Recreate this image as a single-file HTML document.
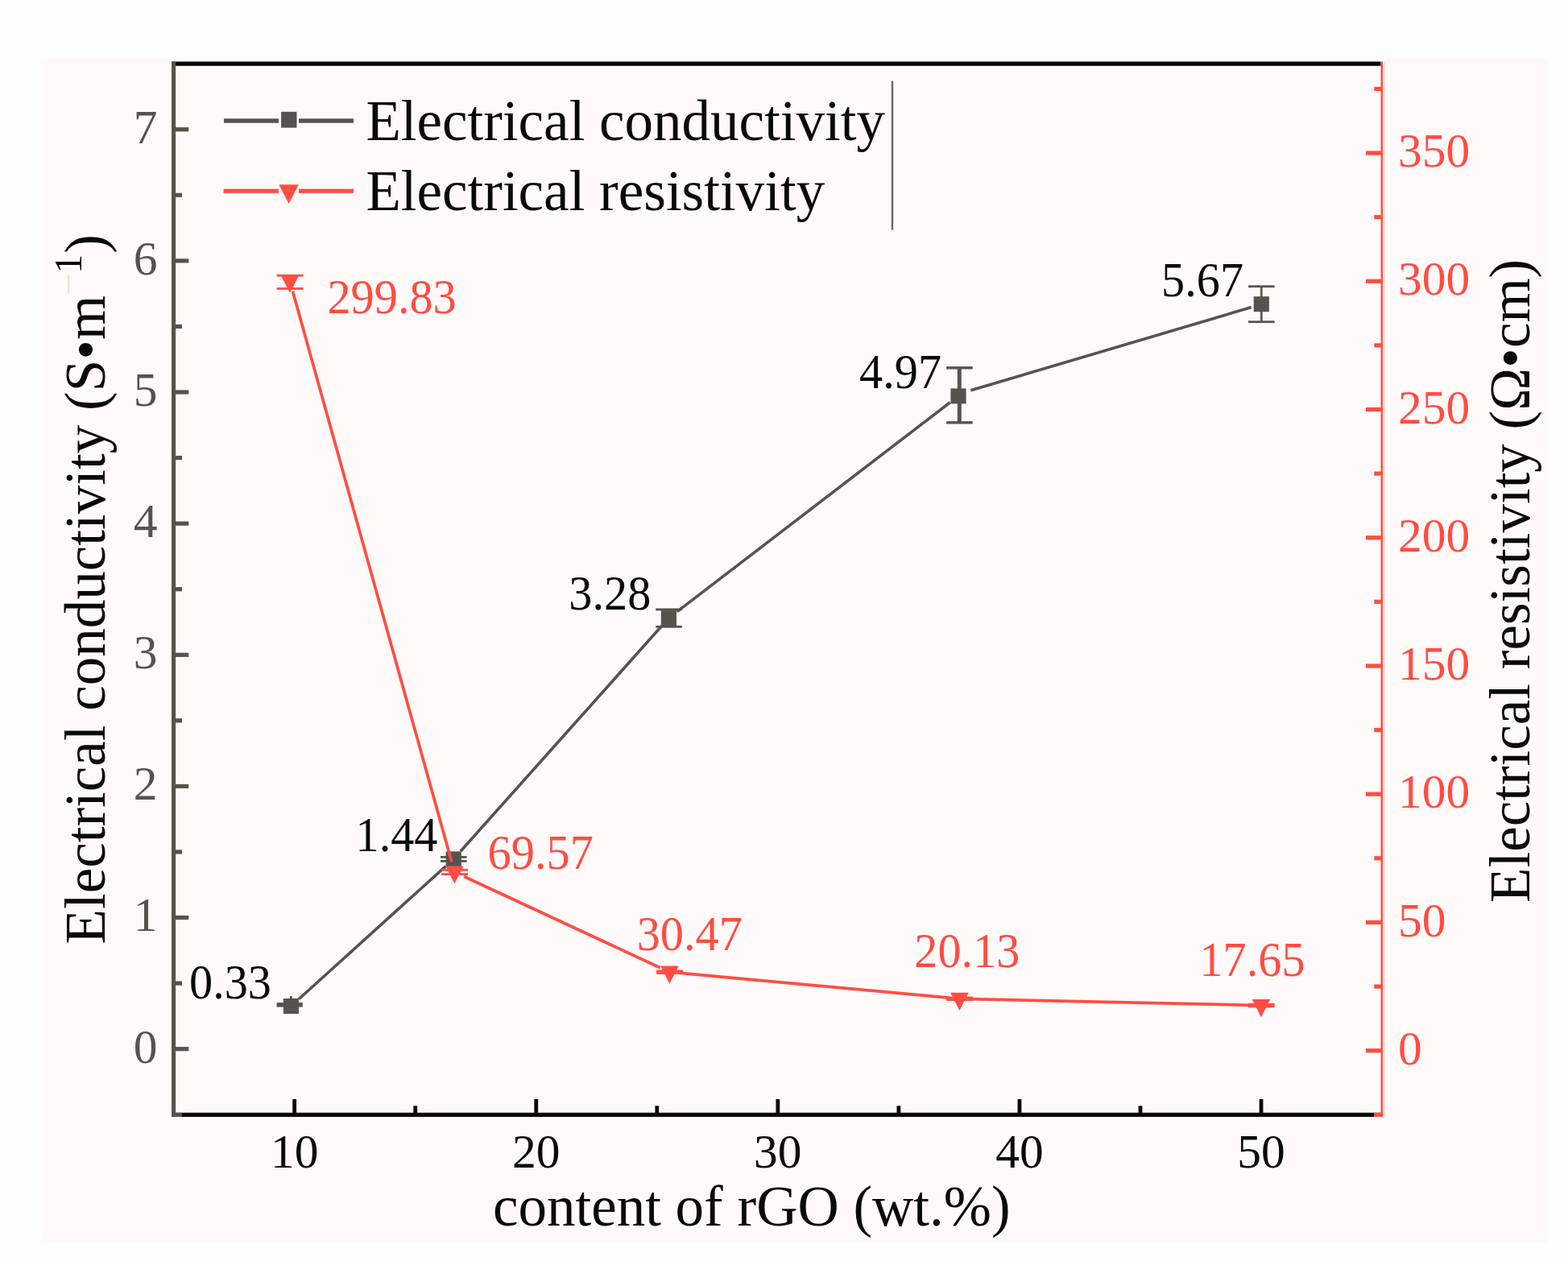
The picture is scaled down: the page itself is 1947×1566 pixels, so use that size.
<!DOCTYPE html>
<html><head><meta charset="utf-8"><title>Electrical conductivity and resistivity vs rGO content</title>
<style>html,body{margin:0;padding:0;background:#fefefe;} svg{display:block;}</style></head>
<body>
<svg width="1947" height="1566" viewBox="0 0 1947 1566">
<rect x="0" y="0" width="1947" height="1566" fill="#fefefe"/>
<rect x="51" y="73" width="1871" height="1470.2" fill="#fefaf9"/>
<rect x="213" y="76.5" width="1501.6" height="5.3" fill="#080a06"/>
<rect x="213" y="1381.8" width="1504" height="5.2" fill="#080a06"/>
<rect x="213" y="76.5" width="5.1" height="1310.5" fill="#57524d"/>
<rect x="213" y="1381.8" width="13" height="5.2" fill="#57524d"/>
<rect x="1714.6" y="76.5" width="2.6" height="1310.5" fill="#ff4d43"/>
<rect x="1717.2" y="76.5" width="2.6" height="1310.5" fill="#fde0dd"/>
<rect x="1706" y="1381.8" width="11.2" height="5.2" fill="#ff4d43"/>
<rect x="218" y="1300.10" width="16.3" height="5.2" fill="#57524d"/>
<rect x="218" y="1136.96" width="16.3" height="5.2" fill="#57524d"/>
<rect x="218" y="973.82" width="16.3" height="5.2" fill="#57524d"/>
<rect x="218" y="810.68" width="16.3" height="5.2" fill="#57524d"/>
<rect x="218" y="647.54" width="16.3" height="5.2" fill="#57524d"/>
<rect x="218" y="484.40" width="16.3" height="5.2" fill="#57524d"/>
<rect x="218" y="321.26" width="16.3" height="5.2" fill="#57524d"/>
<rect x="218" y="158.12" width="16.3" height="5.2" fill="#57524d"/>
<rect x="218" y="1218.53" width="8" height="5.2" fill="#57524d"/>
<rect x="218" y="1055.39" width="8" height="5.2" fill="#57524d"/>
<rect x="218" y="892.25" width="8" height="5.2" fill="#57524d"/>
<rect x="218" y="729.11" width="8" height="5.2" fill="#57524d"/>
<rect x="218" y="565.97" width="8" height="5.2" fill="#57524d"/>
<rect x="218" y="402.83" width="8" height="5.2" fill="#57524d"/>
<rect x="218" y="239.69" width="8" height="5.2" fill="#57524d"/>
<rect x="1696" y="1302.10" width="19" height="5.2" fill="#ff4d43"/>
<rect x="1696" y="1142.86" width="19" height="5.2" fill="#ff4d43"/>
<rect x="1696" y="983.61" width="19" height="5.2" fill="#ff4d43"/>
<rect x="1696" y="824.37" width="19" height="5.2" fill="#ff4d43"/>
<rect x="1696" y="665.12" width="19" height="5.2" fill="#ff4d43"/>
<rect x="1696" y="505.88" width="19" height="5.2" fill="#ff4d43"/>
<rect x="1696" y="346.63" width="19" height="5.2" fill="#ff4d43"/>
<rect x="1696" y="187.39" width="19" height="5.2" fill="#ff4d43"/>
<rect x="1706.3" y="1222.48" width="9" height="5.2" fill="#ff4d43"/>
<rect x="1706.3" y="1063.23" width="9" height="5.2" fill="#ff4d43"/>
<rect x="1706.3" y="903.99" width="9" height="5.2" fill="#ff4d43"/>
<rect x="1706.3" y="744.74" width="9" height="5.2" fill="#ff4d43"/>
<rect x="1706.3" y="585.50" width="9" height="5.2" fill="#ff4d43"/>
<rect x="1706.3" y="426.25" width="9" height="5.2" fill="#ff4d43"/>
<rect x="1706.3" y="267.01" width="9" height="5.2" fill="#ff4d43"/>
<rect x="1706.3" y="107.76" width="9" height="5.2" fill="#ff4d43"/>
<rect x="363.25" y="1365" width="4.8" height="17" fill="#080a06"/>
<rect x="663.35" y="1365" width="4.8" height="17" fill="#080a06"/>
<rect x="963.45" y="1365" width="4.8" height="17" fill="#080a06"/>
<rect x="1263.55" y="1365" width="4.8" height="17" fill="#080a06"/>
<rect x="1563.65" y="1365" width="4.8" height="17" fill="#080a06"/>
<rect x="513.30" y="1373.3" width="4.8" height="9" fill="#080a06"/>
<rect x="813.40" y="1373.3" width="4.8" height="9" fill="#080a06"/>
<rect x="1113.50" y="1373.3" width="4.8" height="9" fill="#080a06"/>
<rect x="1413.60" y="1373.3" width="4.8" height="9" fill="#080a06"/>
<rect x="278" y="147.3" width="68" height="5.4" fill="#57524d"/>
<rect x="371" y="147.3" width="68" height="5.4" fill="#57524d"/>
<rect x="349.1" y="138.8" width="19.4" height="19.8" fill="#57524d"/>
<rect x="277.5" y="234.6" width="68.5" height="5.2" fill="#ff4d43"/>
<rect x="371" y="234.6" width="68" height="5.2" fill="#ff4d43"/>
<polygon points="346.3,229.2 370.9,229.2 358.6,253" fill="#ff4d43"/>
<rect x="1106.8" y="100.5" width="2.4" height="185" fill="#6a6662"/>
<line x1="371.04" y1="1240.78" x2="553.56" y2="1075.62" stroke="#57524d" stroke-width="3.6"/>
<line x1="571.86" y1="1057.20" x2="821.74" y2="777.30" stroke="#57524d" stroke-width="3.6"/>
<line x1="840.72" y1="759.69" x2="1179.68" y2="499.80" stroke="#57524d" stroke-width="3.6"/>
<line x1="1205.34" y1="484.85" x2="1553.84" y2="381.50" stroke="#57524d" stroke-width="3.6"/>
<rect x="351.80" y="1240.00" width="19.2" height="19.0" fill="#57524d"/>
<rect x="343.60" y="1245.10" width="32.2" height="5.5" fill="#57524d"/>
<rect x="360.00" y="1237.00" width="2.8" height="4" fill="#57524d"/>
<rect x="553.60" y="1057.40" width="19.2" height="19.0" fill="#57524d"/>
<rect x="561.90" y="1064.40" width="2.6" height="5.00" fill="#57524d"/>
<rect x="547.00" y="1063.00" width="32.6" height="2.8" fill="#57524d"/>
<rect x="547.00" y="1068.00" width="32.6" height="2.8" fill="#57524d"/>
<rect x="820.80" y="758.10" width="19.2" height="19.0" fill="#57524d"/>
<rect x="829.10" y="756.90" width="2.6" height="21.40" fill="#57524d"/>
<rect x="814.20" y="755.50" width="32.6" height="2.8" fill="#57524d"/>
<rect x="814.20" y="776.90" width="32.6" height="2.8" fill="#57524d"/>
<rect x="1180.40" y="482.39" width="19.2" height="19.0" fill="#57524d"/>
<rect x="1188.80" y="456.80" width="5.0" height="68.00" fill="#57524d"/>
<rect x="1175.10" y="455.10" width="32.6" height="3.4" fill="#57524d"/>
<rect x="1175.10" y="523.10" width="32.6" height="3.4" fill="#57524d"/>
<rect x="1556.70" y="368.20" width="19.2" height="19.0" fill="#57524d"/>
<rect x="1565.00" y="355.70" width="2.6" height="44.00" fill="#57524d"/>
<rect x="1550.10" y="354.30" width="32.6" height="2.8" fill="#57524d"/>
<rect x="1550.10" y="398.30" width="32.6" height="2.8" fill="#57524d"/>
<line x1="363.49" y1="361.82" x2="560.91" y2="1070.48" stroke="#ff4d43" stroke-width="3.7"/>
<line x1="576.19" y1="1088.48" x2="819.61" y2="1201.72" stroke="#ff4d43" stroke-width="3.7"/>
<line x1="844.35" y1="1208.39" x2="1178.55" y2="1239.11" stroke="#ff4d43" stroke-width="3.7"/>
<line x1="1204.50" y1="1240.59" x2="1553.00" y2="1248.31" stroke="#ff4d43" stroke-width="3.7"/>
<rect x="358.70" y="342.20" width="2.6" height="16.20" fill="#ff4d43"/>
<rect x="343.70" y="340.80" width="33" height="2.8" fill="#ff4d43"/>
<rect x="343.70" y="357.00" width="33" height="2.8" fill="#ff4d43"/>
<polygon points="348.70,341.70 371.30,341.70 360.00,363.90" fill="#ff4d43"/>
<rect x="563.10" y="1080.40" width="2.6" height="5.20" fill="#ff4d43"/>
<rect x="548.10" y="1079.00" width="33" height="2.8" fill="#ff4d43"/>
<rect x="548.10" y="1084.20" width="33" height="2.8" fill="#ff4d43"/>
<polygon points="553.10,1075.40 575.70,1075.40 564.40,1097.60" fill="#ff4d43"/>
<rect x="830.10" y="1205.90" width="2.6" height="2.60" fill="#ff4d43"/>
<rect x="815.10" y="1204.50" width="33" height="2.8" fill="#ff4d43"/>
<rect x="815.10" y="1207.10" width="33" height="2.8" fill="#ff4d43"/>
<polygon points="820.10,1199.60 842.70,1199.60 831.40,1221.80" fill="#ff4d43"/>
<rect x="1190.20" y="1239.00" width="2.6" height="2.60" fill="#ff4d43"/>
<rect x="1175.20" y="1237.60" width="33" height="2.8" fill="#ff4d43"/>
<rect x="1175.20" y="1240.20" width="33" height="2.8" fill="#ff4d43"/>
<polygon points="1180.20,1232.70 1202.80,1232.70 1191.50,1254.90" fill="#ff4d43"/>
<rect x="1564.70" y="1247.30" width="2.6" height="2.60" fill="#ff4d43"/>
<rect x="1549.70" y="1245.90" width="33" height="2.8" fill="#ff4d43"/>
<rect x="1549.70" y="1248.50" width="33" height="2.8" fill="#ff4d43"/>
<polygon points="1554.70,1241.00 1577.30,1241.00 1566.00,1263.20" fill="#ff4d43"/>
<g font-family="Liberation Serif, Times New Roman, serif">
<text x="195.6" y="1319.50" text-anchor="end" font-size="59.5" fill="#57524d">0</text>
<text x="195.6" y="1156.36" text-anchor="end" font-size="59.5" fill="#57524d">1</text>
<text x="195.6" y="993.22" text-anchor="end" font-size="59.5" fill="#57524d">2</text>
<text x="195.6" y="830.08" text-anchor="end" font-size="59.5" fill="#57524d">3</text>
<text x="195.6" y="666.94" text-anchor="end" font-size="59.5" fill="#57524d">4</text>
<text x="195.6" y="503.80" text-anchor="end" font-size="59.5" fill="#57524d">5</text>
<text x="195.6" y="340.66" text-anchor="end" font-size="59.5" fill="#57524d">6</text>
<text x="195.6" y="177.52" text-anchor="end" font-size="59.5" fill="#57524d">7</text>
<text x="1736" y="1321.90" font-size="59.5" fill="#ff4d43">0</text>
<text x="1736" y="1162.65" font-size="59.5" fill="#ff4d43">50</text>
<text x="1736" y="1003.41" font-size="59.5" fill="#ff4d43">100</text>
<text x="1736" y="844.17" font-size="59.5" fill="#ff4d43">150</text>
<text x="1736" y="684.92" font-size="59.5" fill="#ff4d43">200</text>
<text x="1736" y="525.68" font-size="59.5" fill="#ff4d43">250</text>
<text x="1736" y="366.43" font-size="59.5" fill="#ff4d43">300</text>
<text x="1736" y="207.19" font-size="59.5" fill="#ff4d43">350</text>
<text x="365.65" y="1450.2" text-anchor="middle" font-size="59.5" fill="#080a06">10</text>
<text x="665.75" y="1450.2" text-anchor="middle" font-size="59.5" fill="#080a06">20</text>
<text x="965.85" y="1450.2" text-anchor="middle" font-size="59.5" fill="#080a06">30</text>
<text x="1265.95" y="1450.2" text-anchor="middle" font-size="59.5" fill="#080a06">40</text>
<text x="1566.05" y="1450.2" text-anchor="middle" font-size="59.5" fill="#080a06">50</text>
<text x="611.9" y="1522" font-size="71" fill="#080a06">content of rGO (wt.%)</text>
<text transform="translate(130.3 1172.4) rotate(-90)" font-size="71" fill="#080a06">Electrical conductivity (S•m<tspan dy="-29.4" font-size="48" fill="#ece6d2">−</tspan><tspan font-size="48">1</tspan><tspan dy="29.4" dx="1">)</tspan></text>
<text transform="translate(1899.4 1120.9) rotate(-90)" font-size="71" fill="#080a06">Electrical resistivity (Ω•cm)</text>
<text x="454.4" y="174.2" font-size="71" fill="#080a06">Electrical conductivity</text>
<text x="454.4" y="260.8" font-size="71" fill="#080a06">Electrical resistivity</text>
<text transform="translate(286.0 1239.9) scale(0.98 1.04)" text-anchor="middle" font-size="59.5" fill="#080a06">0.33</text>
<text transform="translate(492.5 1057.3) scale(0.98 1.04)" text-anchor="middle" font-size="59.5" fill="#080a06">1.44</text>
<text transform="translate(757.3 757.4) scale(0.98 1.04)" text-anchor="middle" font-size="59.5" fill="#080a06">3.28</text>
<text transform="translate(1118.1 481.8) scale(0.98 1.04)" text-anchor="middle" font-size="59.5" fill="#080a06">4.97</text>
<text transform="translate(1493.1 367.6) scale(0.98 1.04)" text-anchor="middle" font-size="59.5" fill="#080a06">5.67</text>
<text transform="translate(486.6 389.4) scale(0.98 1.04)" text-anchor="middle" font-size="59.5" fill="#ff4d43">299.83</text>
<text transform="translate(671.2 1078.9) scale(0.98 1.04)" text-anchor="middle" font-size="59.5" fill="#ff4d43">69.57</text>
<text transform="translate(856.3 1179.6) scale(0.98 1.04)" text-anchor="middle" font-size="59.5" fill="#ff4d43">30.47</text>
<text transform="translate(1200.9 1201.4) scale(0.98 1.04)" text-anchor="middle" font-size="59.5" fill="#ff4d43">20.13</text>
<text transform="translate(1555.0 1212.2) scale(0.98 1.04)" text-anchor="middle" font-size="59.5" fill="#ff4d43">17.65</text>
</g>
</svg>
</body></html>
